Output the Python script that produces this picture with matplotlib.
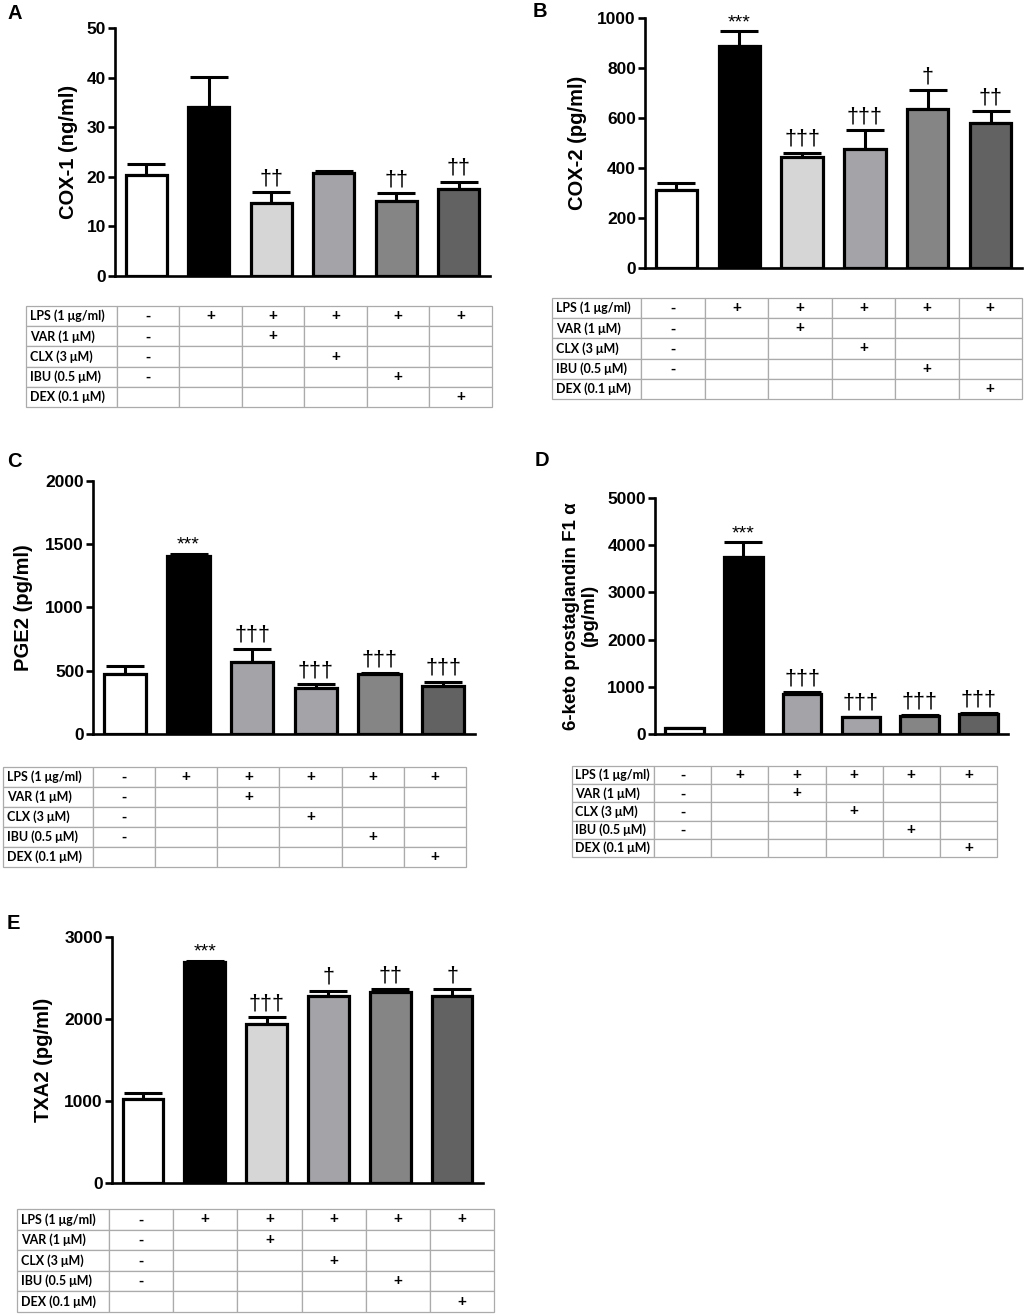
import matplotlib
matplotlib.use('Agg')
import matplotlib.pyplot as plt

plt.rcParams['font.family'] = ['Liberation Sans', 'DejaVu Sans']
plt.rcParams['font.weight'] = 'bold'

W, H = 1024, 1315

# ---------------- data ----------------
row_labels = ["LPS (1 μg/ml)", "VAR (1 μM)", "CLX (3 μM)", "IBU (0.5 μM)", "DEX (0.1 μM)"]
lps_row = ['-', '+', '+', '+', '+', '+']
var_row = ['-', '', '+', '', '', '']
clx_row = ['-', '', '', '+', '', '']
ibu_row = ['-', '', '', '', '+', '']
dex_row = ['', '', '', '', '', '+']

cox1_mean = [20.3, 34.1, 14.7, 20.7, 15.2, 17.6]
cox1_sem = [2.2, 6.0, 2.2, 0.4, 1.5, 1.4]
cox1_sig = ['', '', '††', '', '††', '††']

cox2_mean = [313, 889, 443, 477, 636, 580]
cox2_sem = [28, 58, 18, 74, 75, 48]
cox2_sig = ['', '***', '†††', '†††', '†', '††']

pge2_mean = [474, 1408, 571, 366, 474, 379]
pge2_sem = [63, 18, 103, 29, 6, 34]
pge2_sig = ['', '***', '†††', '†††', '†††', '†††']

keto_mean = [120, 3748, 849, 361, 382, 417]
keto_sem = [14, 311, 42, 7, 21, 29]
keto_sig = ['', '***', '†††', '†††', '†††', '†††']

txa2_mean = [1028, 2691, 1943, 2280, 2329, 2276]
txa2_sem = [70, 20, 77, 65, 37, 86]
txa2_sig = ['', '***', '†††', '†', '††', '†']

pal_light = ['#ffffff', '#000000', '#d6d6d6', '#a4a3a8', '#858585', '#626262']
pal_mid = ['#ffffff', '#000000', '#a4a3a8', '#a4a3a8', '#858585', '#626262']

# ---------------- layout helpers ----------------
fig = plt.figure(figsize=(W / 100, H / 100), dpi=100)


def px_axes(x0, x1, y0, y1):
    return fig.add_axes([x0 / W, 1 - y1 / H, (x1 - x0) / W, (y1 - y0) / H])


def bar_panel(box, mean, sem, sig, colors, ymax, yticks, ylabel, labx, ylsize=14.5):
    ax = px_axes(*box)
    xs = list(range(len(mean)))
    ax.bar(xs, mean, width=0.66, color=colors, edgecolor='black', linewidth=2.3, zorder=3)
    ax.errorbar(xs, mean, yerr=[[0] * len(sem), sem], fmt='none', ecolor='black',
                elinewidth=2.2, capsize=14, capthick=2.2, zorder=2)
    for x, m, s, t in zip(xs, mean, sem, sig):
        if not t:
            continue
        if t.startswith('*'):
            ax.annotate(t, (x, m + s), xytext=(0, 3), textcoords='offset points',
                        ha='center', va='baseline', fontsize=14, fontweight='normal', zorder=4)
        else:
            ax.annotate(t, (x, m + s), xytext=(0, 2), textcoords='offset points',
                        ha='center', va='bottom', fontsize=15.5, fontweight='normal', zorder=4)
    ax.set_xlim(-0.5, len(mean) - 0.5)
    ax.set_ylim(0, ymax)
    ax.set_yticks(yticks)
    ax.set_xticks([])
    for s in ['top', 'right']:
        ax.spines[s].set_visible(False)
    for s in ['left', 'bottom']:
        ax.spines[s].set_linewidth(1.9)
    ax.tick_params(axis='y', length=5, width=1.9, pad=1.5, labelsize=12.5)
    ax.set_ylabel(ylabel, fontsize=ylsize, fontweight='bold', linespacing=1.1)
    ax.yaxis.set_label_coords(labx, 0.5)
    ax.set_facecolor('none')
    return ax


def table_panel(box, first_frac):
    ax = px_axes(*box)
    ax.axis('off')
    rows = [lps_row, var_row, clx_row, ibu_row, dex_row]
    cell_text = [[lab] + r for lab, r in zip(row_labels, rows)]
    other = (1 - first_frac) / 6
    tbl = ax.table(cellText=cell_text, colWidths=[first_frac] + [other] * 6,
                   cellLoc='center', bbox=[0, 0, 1, 1])
    tbl.auto_set_font_size(False)
    for (r, c), cell in tbl.get_celld().items():
        cell.set_edgecolor('#ababab')
        cell.set_linewidth(0.9)
        txt = cell.get_text()
        if c == 0:
            txt.set_ha('left')
            cell.PAD = 0.04
            txt.set_fontfamily(['Lato', 'DejaVu Sans'])
            txt.set_fontsize(9)
            txt.set_fontweight('bold')
        else:
            txt.set_fontsize(11)
            txt.set_fontweight('bold')
    return ax


# ---------------- panels ----------------
bar_panel((115, 490, 28, 276), cox1_mean, cox1_sem, cox1_sig, pal_light, 50,
          [0, 10, 20, 30, 40, 50], 'COX-1 (ng/ml)', -0.10)
table_panel((26, 492, 306, 407), 0.195)

bar_panel((645, 1022, 18, 268), cox2_mean, cox2_sem, cox2_sig, pal_light, 1000,
          [0, 200, 400, 600, 800, 1000], 'COX-2 (pg/ml)', -0.154)
table_panel((552, 1022, 298, 399), 0.19)

bar_panel((93, 475, 481, 734), pge2_mean, pge2_sem, pge2_sig, pal_mid, 2000,
          [0, 500, 1000, 1500, 2000], 'PGE2 (pg/ml)', -0.157)
table_panel((3, 466, 767, 867), 0.194)

bar_panel((655, 1008, 498, 734), keto_mean, keto_sem, keto_sig, pal_mid, 5000,
          [0, 1000, 2000, 3000, 4000, 5000], '6-keto prostaglandin F1 α\n(pg/ml)', -0.161,
          ylsize=13.5)
table_panel((572, 997, 766, 857), 0.193)

bar_panel((112, 483, 937, 1183), txa2_mean, txa2_sem, txa2_sig, pal_light, 3000,
          [0, 1000, 2000, 3000], 'TXA2 (pg/ml)', -0.159)
table_panel((17, 494, 1209, 1312), 0.193)

# panel letters
for letter, x, y in [('A', 7, 4), ('B', 533, 2), ('C', 7, 452), ('D', 535, 451), ('E', 7, 914)]:
    fig.text(x / W, 1 - y / H, letter, fontsize=14.5, fontweight='bold', ha='left', va='top')

fig.savefig('out.png', dpi=100, facecolor='white')
